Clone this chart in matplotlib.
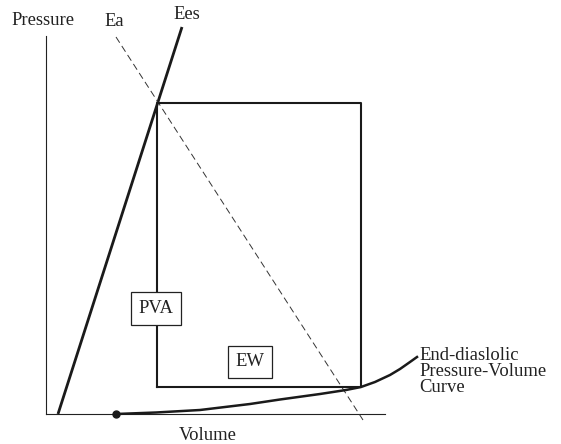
import numpy as np
import matplotlib.pyplot as plt

plt.rcParams['font.family'] = ['Liberation Serif', 'DejaVu Serif']

# diagram values (volume, pressure) in arbitrary units
ees_v = [12, 136]
ees_p = [0, 387]
ea_v = [70, 317]
ea_p = [377, -6]
loop_v = [111, 111, 315, 315, 111]
loop_p = [27, 311, 311, 27, 27]
edpvr_v = [70, 110, 154, 204, 234, 274, 300, 315, 329, 344, 354, 364, 371]
edpvr_p = [0, 1.5, 4, 10, 14.5, 20, 24, 27, 32, 39, 45, 52, 57]
axis_vmax = 339
axis_pmax = 378

fig = plt.figure(figsize=(5.61, 4.44), dpi=100)
ax = fig.add_axes([0, 0, 1, 1])
ax.set_xlim(-46, 515)
ax.set_ylim(-30, 414)
ax.axis('off')

ax.plot([0, 0], [0, axis_pmax], color='#222', lw=0.8)
ax.plot([0, axis_vmax], [0, 0], color='#222', lw=0.8)

ax.plot(ees_v, ees_p, color='#1a1a1a', lw=2.0, solid_capstyle='butt')
ax.plot(ea_v, ea_p, color='#333', lw=0.7, dashes=(7, 4))
ax.plot(loop_v, loop_p, color='#1a1a1a', lw=1.5)
ax.plot(edpvr_v, edpvr_p, color='#1a1a1a', lw=1.8, solid_joinstyle='round')
ax.plot(edpvr_v[0], edpvr_p[0], 'o', color='#1a1a1a', ms=5)

fs = 13.4
box = dict(boxstyle='square,pad=0.42', fc='white', ec='#222', lw=0.9)
ax.text(110, 105.5, 'PVA', ha='center', va='center', fontsize=fs, color='#222', bbox=box)
ax.text(204, 52, 'EW', ha='center', va='center', fontsize=fs, color='#222', bbox=box)

ax.text(-3, 393, 'Pressure', ha='center', va='center', fontsize=fs, color='#222')
ax.text(68, 392, 'Ea', ha='center', va='center', fontsize=fs, color='#222')
ax.text(141, 399, 'Ees', ha='center', va='center', fontsize=fs, color='#222')
ax.text(162, -21, 'Volume', ha='center', va='center', fontsize=fs, color='#222')
ax.text(373, 67, 'End-diaslolic\nPressure-Volume\nCurve', ha='left', va='top',
        fontsize=fs, color='#222', linespacing=0.92)

fig.savefig('out.png', dpi=100)
